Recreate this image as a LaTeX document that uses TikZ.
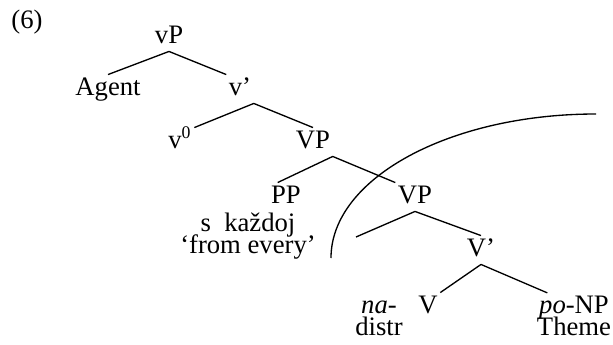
\documentclass[tikz,border=0pt]{standalone}
\usepackage{fontspec}
\setmainfont{Liberation Serif}
\usetikzlibrary{positioning}
\tikzset{
    x=0.45pt, y=-0.45pt, % one unit is one pixel, y runs downwards
    every node/.style={font=\fontsize{12}{14}\selectfont, inner sep=1pt,
        text height=8pt, text depth=2.6pt}, % same box for every label
    cat/.style={anchor=base}, % labels sit on their baseline
    stack/.style={anchor=base, align=center, text height=, text depth=,
        font={\fontsize{12}{9.9}\selectfont\lineskiplimit=-10pt}}, % label with a gloss under it, placed by its last line
    branch/.style={line width=0.6pt}, % tree lines and the scope curve
}

\begin{document}
\begin{tikzpicture}
    \useasboundingbox (0,0) rectangle (613,345);
    \node[cat] (ex) at (27,28) {(6)};
    \node[cat] (vP) at (169,43) {vP};
    \node[cat] (agent) at (108,95) {Agent};
    \node[cat] (vbar) at (240,95) {v'};
    \node[cat] (v0) at (180,148) {v\textsuperscript{0}};
    \node[cat] (VP) at (313,148) {VP};
    \node[cat] (PP) at (286,203) {PP};
    \node[stack] (sk) at (248,253) {s\ \ každoj\\`from every'};
    \node[cat] (VPlow) at (415,203) {VP};
    \coordinate (gap) at (356,237);
    \node[cat] (Vbar) at (481,256) {V'};
    \node[stack] (na) at (379,335) {\textit{na}-\\distr};
    \node[cat] (V) at (428,313) {V};
    \node[stack] (poNP) at (574,335) {\textit{po}-NP\\Theme};
    \draw[branch]
    (vP.south) -- (agent.north)
    (vP.south) -- (vbar.north west)
    (vbar.south east) -- (v0.north east)
    (vbar.south east) -- (VP.north)
    (VP.south east) -- (PP.120)
    (VP.south east) -- (VPlow.north west)
    (VPlow.south) -- (gap)
    (VPlow.south) -- (Vbar.north)
    (Vbar.south) -- (V.north east)
    (Vbar.south) -- ([xshift=-12pt]poNP.north);
    % scope of the distributive prefix
    \draw[branch] (331,258) arc[start angle=180, end angle=270, x radius=265, y radius=144];
\end{tikzpicture}
\end{document}
